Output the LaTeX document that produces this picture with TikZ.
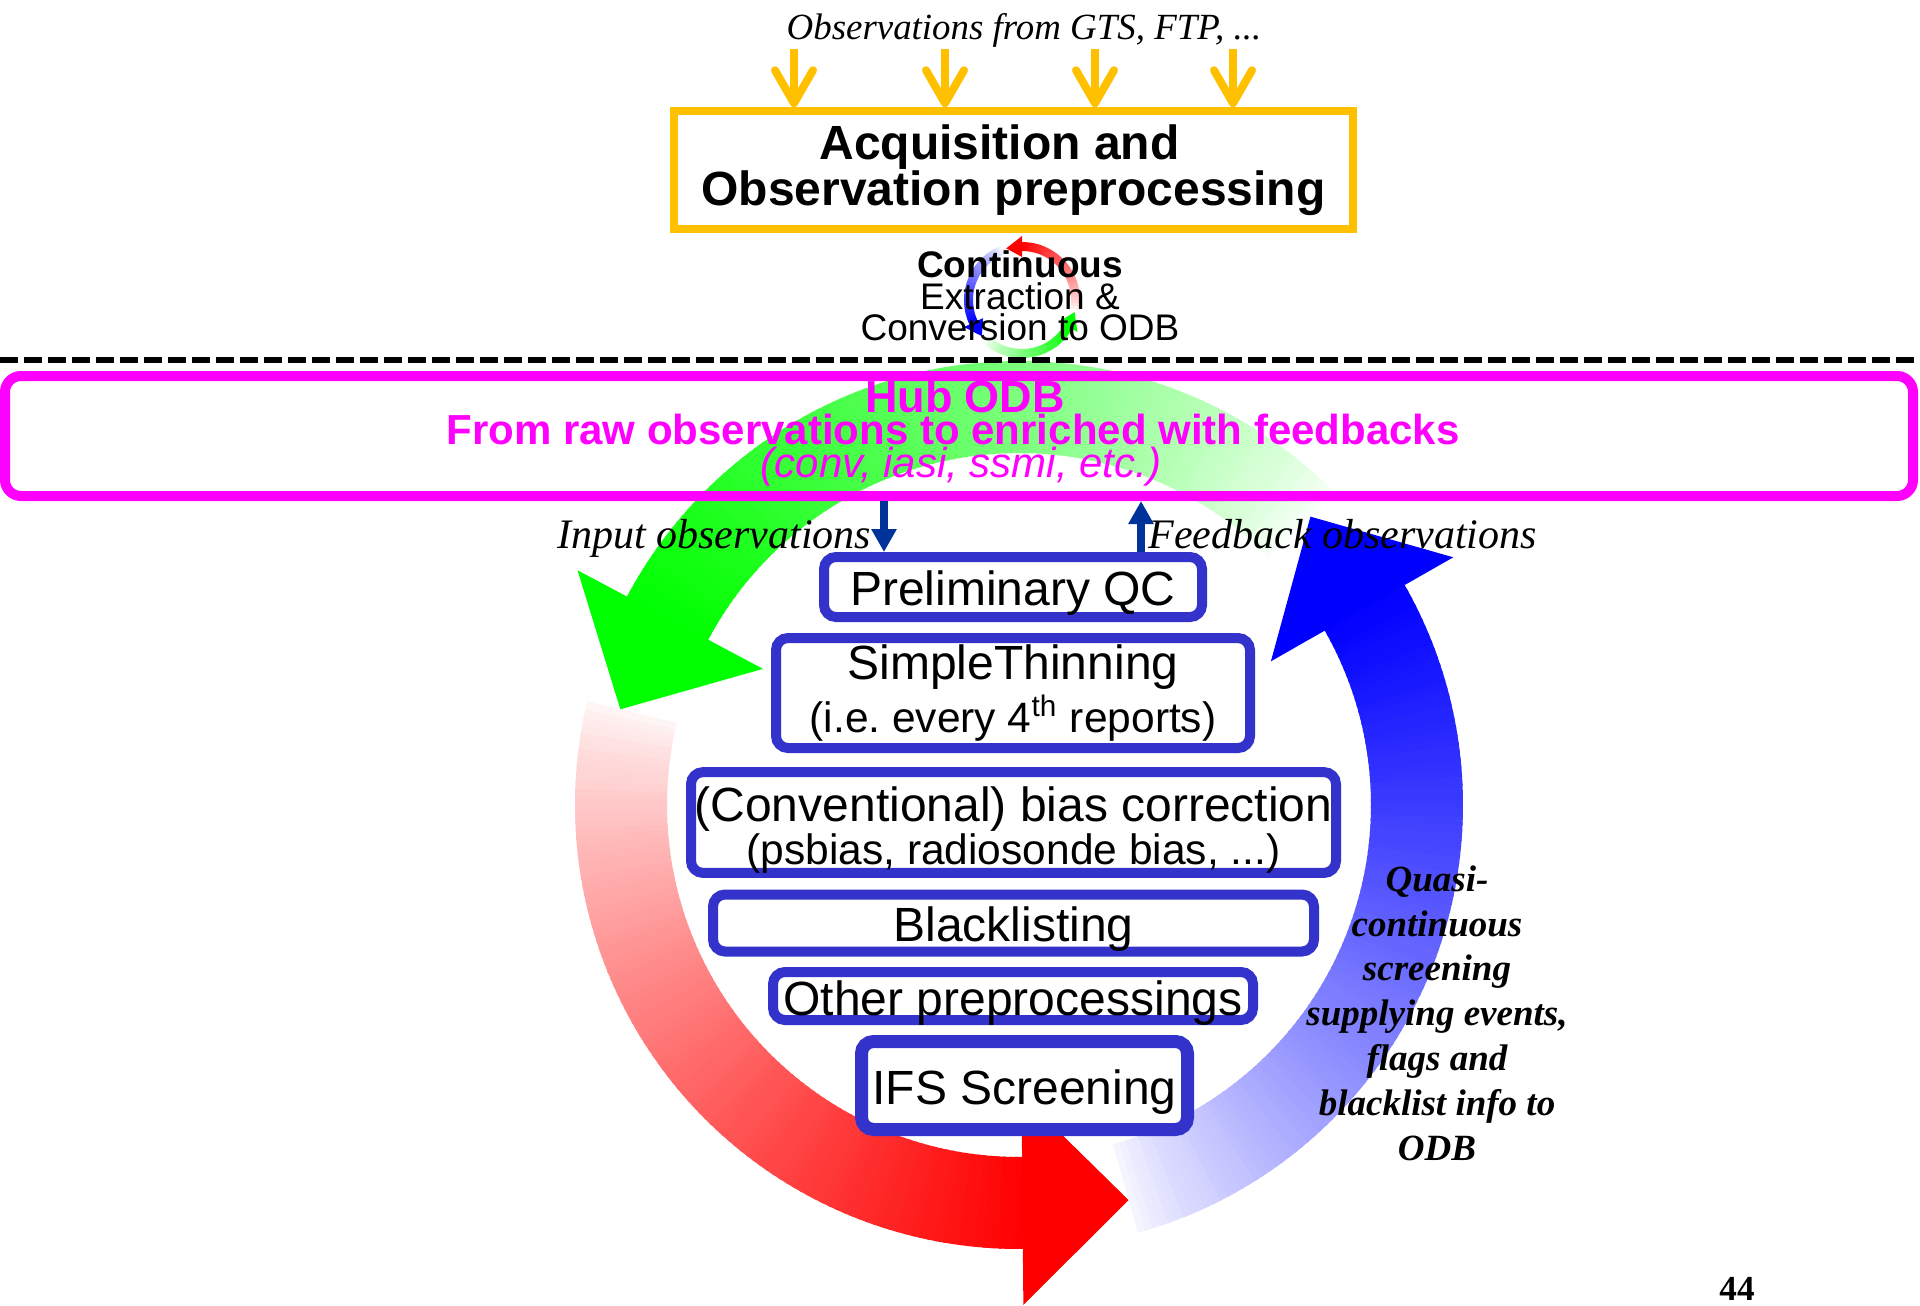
\documentclass[tikz,border=0pt]{standalone}
\usepackage{fontspec}
\setmainfont{Liberation Serif}
\setsansfont{Liberation Sans}
\usetikzlibrary{arrows.meta}

\definecolor{acqorange}{HTML}{FFC000}
\definecolor{hubpink}{HTML}{FF00FF}
\definecolor{stepblue}{HTML}{3333CC}
\definecolor{flowblue}{HTML}{003399}

\newcommand{\tightlines}{\setlength{\lineskiplimit}{-20pt}}

% fading band of a round arrow: colour, from, to, inner r, outer r, pieces
\newcommand{\fadeband}[6]{%
  \foreach \piece in {1,...,#6}{%
    \pgfmathsetmacro{\angA}{(#2)+((#3)-(#2))*(\piece-1)/#6}%
    \pgfmathsetmacro{\angB}{(#2)+((#3)-(#2))*\piece/#6+0.4}%
    \pgfmathtruncatemacro{\mx}{3+97*((\piece-0.5)/#6)^0.8}%
    \fill[#1!\mx!white] (\angA:#4) arc[start angle=\angA,end angle=\angB,radius=#4]
      -- (\angB:#5) arc[start angle=\angB,end angle=\angA,radius=#5] -- cycle;
  }%
}

\begin{document}
\frenchspacing
\begin{tikzpicture}[x=0.1mm,y=0.1mm,
    stepbox/.style={draw=stepblue, line width=1mm, rounded corners=1.2mm, fill=white,
      inner sep=0pt, align=center, font=\sffamily\fontsize{13.66}{15}\selectfont},
    onestep/.style={stepbox, text height=4.7mm, text depth=1mm},
    obsarrow/.style={draw=acqorange, line width=0.8mm, -{Straight Barb[length=3.3mm,width=3.8mm,round]}},
    flowarrow/.style={draw=flowblue, line width=0.8mm, -{Triangle[length=2.3mm,width=2.4mm]}},
    hubtext/.style={text=hubpink, anchor=base, font=\sffamily\bfseries\fontsize{11.95}{12}\selectfont},
    sidenote/.style={anchor=base west, font=\itshape\fontsize{11.95}{14}\selectfont}]
        \useasboundingbox (0,0) rectangle (1920,-1306);

        % big cycle behind everything
        \begin{scope}[shift={(1019,-805)}]
            \fadeband{green}{45}{152}{352}{444}{100}
            \fadeband{red}{166.5}{270.5}{352}{444}{100}
            \fadeband{blue}{285.5}{389.7}{352}{444}{100}
            \fill[green] (152:290) -- (152:500) -- (166.5:410) -- cycle;
            \fill[red] (270.5:290) -- (270.5:500) -- (285.5:410) -- cycle;
            \fill[blue] (389.7:290) -- (389.7:500) -- (404.7:410) -- cycle;
        \end{scope}

        % small cycle under the acquisition box
        \begin{scope}[shift={(1022,-300)}]
            \fadeband{red}{-10}{90}{49}{58}{30}
            \fadeband{blue}{112}{205}{49}{58}{30}
            \fadeband{green}{228}{330}{49}{58}{30}
            \fill[red] (90:43) -- (90:64) -- (107:54) -- cycle;
            \fill[blue] (205:43) -- (205:64) -- (222:54) -- cycle;
            \fill[green] (330:43) -- (330:64) -- (347:54) -- cycle;
        \end{scope}

        \node[anchor=base, font=\itshape\fontsize{10.5}{12}\selectfont] (obstext) at (1024,-39) {Observations from GTS, FTP, ...};
        \node[draw=acqorange, line width=0.75mm, minimum width=67.9mm, minimum height=11.8mm, inner sep=0pt, align=center,
          font=\sffamily\bfseries\fontsize{13.66}{13.1}\selectfont\tightlines] (acq) at (1013.5,-170)
          {Acquisition and\hspace*{2.8mm}\\Observation preprocessing};
        \coordinate (obs1) at (794,-49);
        \coordinate (obs2) at (945,-49);
        \coordinate (obs3) at (1095,-49);
        \coordinate (obs4) at (1233,-49);
        \draw[obsarrow] (obs1) -- (obs1 |- acq.north);
        \draw[obsarrow] (obs2) -- (obs2 |- acq.north);
        \draw[obsarrow] (obs3) -- (obs3 |- acq.north);
        \draw[obsarrow] (obs4) -- (obs4 |- acq.north);

        \node[align=center, font=\sffamily\fontsize{10.53}{8.96}\selectfont\tightlines] (convert) at (1020,-296)
          {\textbf{Continuous}\\Extraction \&\\Conversion to ODB};

        \draw[line width=0.65mm, dash pattern=on 1.8mm off 0.6mm] (0,-360) -- (1920,-360);

        % the ODB hub
        \node[draw=hubpink, line width=1mm, rounded corners=1.6mm, minimum width=190.8mm, minimum height=12mm, inner sep=0pt] (hub) at (959,-436) {};
        \node[hubtext, font=\sffamily\bfseries\fontsize{12.8}{13}\selectfont] (hubname) at (965,-412) {Hub ODB};
        \node[hubtext] (hubaim) at (953,-444) {From raw observations to enriched with feedbacks};
        \node[hubtext, font=\sffamily\itshape\fontsize{11.95}{12}\selectfont] (hubkinds) at (961,-477) {(conv, iasi, ssmi, etc.)};

        % preprocessing steps
        \node[onestep, minimum width=37.8mm, minimum height=6mm] (qc) at (1013,-587) {Preliminary QC};
        \node[stepbox, minimum width=47.4mm, minimum height=11mm, font=\sffamily\fontsize{13.66}{14.8}\selectfont] (thin) at (1013,-693)
          {SimpleThinning\\\fontsize{12.09}{14.8}\selectfont(i.e. every 4\textsuperscript{th} reports)};
        \node[stepbox, minimum width=64.5mm, minimum height=9.9mm, font=\sffamily\fontsize{13.66}{12.23}\selectfont\tightlines] (bias) at (1013.5,-822.5)
          {\rule{0pt}{4.9mm}(Conventional) bias correction\\\fontsize{12.09}{12.23}\selectfont(psbias, radiosonde bias, ...)};
        \node[onestep, minimum width=60.1mm, minimum height=5.4mm] (black) at (1013.5,-923) {Blacklisting};
        \node[onestep, minimum width=48mm, minimum height=4.8mm, text height=4.3mm, text depth=0.5mm] (other) at (1013,-996) {Other preprocessings};
        \node[onestep, line width=1.3mm, minimum width=32.6mm, minimum height=8.8mm] (ifs) at (1024.5,-1085.5) {IFS Screening};

        \draw[flowarrow] (884,0 |- hub.south) -- (884,0 |- qc.north);
        \draw[flowarrow] (1141,0 |- qc.north) -- (1141,0 |- hub.south);
        \node[sidenote] (inlab) at (545,-548) {Input observations};
        \node[sidenote] (fblab) at (1136,-548) {Feedback observations};

        \node[align=center, font=\bfseries\itshape\fontsize{10.53}{12.75}\selectfont] (screen) at (1437,-1013)
          {Quasi-\\continuous\\screening\\supplying events,\\flags and\\blacklist info to\\ODB};
        \node[anchor=base, font=\bfseries\fontsize{10}{12}\selectfont] (pagenum) at (1737,-1300) {44};
    \end{tikzpicture}
\end{document}
